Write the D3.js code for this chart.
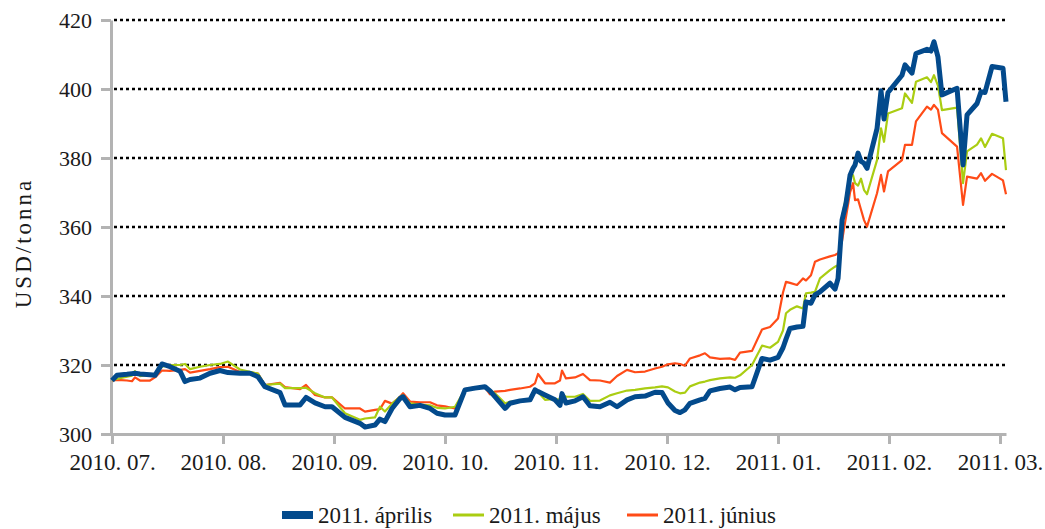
<!DOCTYPE html>
<html>
<head>
<meta charset="UTF-8">
<title>USD/tonna</title>
<style>
  body { margin: 0; background: #fff; }
  svg, svg text { font-family: "Liberation Serif", "Times New Roman", Times, "DejaVu Serif", serif; }
  .axis path, .axis line { stroke: #b3b3b3; stroke-width: 3; }
  .axis text { fill: #1a1a1a; font-size: 22px; }
  .grid line { stroke: #000; stroke-width: 2.5; stroke-dasharray: 3,3; }
  .legend text { font-size: 23px; fill: #1a1a1a; }
</style>
</head>
<body>
<script src="https://cdnjs.cloudflare.com/ajax/libs/d3/7.8.5/d3.min.js"></script>
<script>
// position in months since 2010. 07.
var monthPos = [0, 0.045, 0.135, 0.180, 0.207, 0.252, 0.342, 0.387, 0.450, 0.523, 0.613, 0.658, 0.703, 0.793, 0.883, 0.973,
  1.045, 1.153, 1.243, 1.315, 1.378, 1.514, 1.559, 1.694, 1.748, 1.829, 1.919, 1.982,
  2.099, 2.234, 2.279, 2.369, 2.414, 2.459, 2.523, 2.595, 2.622, 2.685, 2.775, 2.865, 2.928,
  3.000, 3.090, 3.180, 3.270, 3.360, 3.405, 3.450, 3.541, 3.586, 3.676, 3.766, 3.811, 3.838, 3.901, 3.991,
  4.036, 4.054, 4.090, 4.171, 4.243, 4.306, 4.396, 4.486, 4.550, 4.640, 4.712, 4.802, 4.892, 4.955,
  5.009, 5.072, 5.117, 5.162, 5.207, 5.297, 5.342, 5.387, 5.477, 5.568, 5.613, 5.658, 5.766, 5.856, 5.928,
  6.000, 6.045, 6.072, 6.108, 6.171, 6.225, 6.252, 6.297, 6.333, 6.378, 6.468, 6.514, 6.541, 6.577, 6.613, 6.649,
  6.676, 6.694, 6.721, 6.748, 6.775, 6.802, 6.892, 6.928, 6.955, 6.991,
  7.117, 7.144, 7.207, 7.243, 7.342, 7.378, 7.405, 7.441, 7.477, 7.613, 7.667, 7.703, 7.793, 7.829, 7.865, 7.928,
  8.027, 8.054];

var aprilis = [315.5, 317, 317.3, 317.5, 317.6, 317.4, 317.2, 317, 320.3, 319.5, 318.2, 315.2, 315.8, 316.2, 317.6, 318.4,
  317.8, 317.6, 317.6, 316.6, 313.7, 312, 308.4, 308.4, 310.6, 309, 307.9, 307.9,
  304.8, 303.1, 302, 302.6, 304.3, 303.6, 307.4, 310.3, 310.8, 307.9, 308.3, 307.4, 306,
  305.5, 305.5, 312.8, 313.3, 313.7, 312.5, 310.8, 307.4, 308.9, 309.6, 309.9, 312.8, 312.3, 311.3, 309.9,
  308.3, 311.7, 309, 309.6, 310.8, 308.2, 307.9, 309.2, 307.9, 309.9, 310.8, 311, 312.1, 312,
  309, 306.8, 306.2, 307, 308.9, 309.9, 310.3, 312.5, 313.2, 313.6, 312.8, 313.5, 313.7, 321.9, 321.4,
  322.2, 325, 327.5, 330.6, 331, 331.2, 338.3, 337.9, 340.3, 341.2, 343.7, 342, 345.1, 362, 366.9, 375,
  377, 378, 381.4, 379, 378.5, 377, 388.5, 399.5, 391.3, 399,
  404, 407, 404.6, 410.3, 411.5, 411, 413.7, 409.3, 398.3, 400.2, 378, 392.5, 395.8, 399.2, 399, 406.5,
  406, 396.3];

var majus = [315.5, 316, 316.6, 316.9, 318.2, 316.8, 317.2, 317.4, 319.5, 320, 320, 320.3, 318.8, 319.5, 320, 320.3,
  321, 318.7, 318, 317.5, 314.2, 314.6, 313.3, 313.3, 313.4, 311.8, 310.6, 310.6,
  306, 304.1, 304.5, 304.8, 307.9, 306.5, 308.8, 310.8, 311.2, 308.9, 308.5, 308.3, 307.6,
  307.4, 307.9, 312.8, 313.3, 313.5, 312.8, 311.8, 308.9, 309.3, 309.6, 309.9, 312.8, 312.2, 309.9, 310.2,
  309.9, 311.5, 310.8, 310.8, 311.6, 309.6, 309.7, 311.2, 311.8, 312.6, 312.8, 313.2, 313.5, 313.8,
  313.5, 312.3, 311.8, 312, 313.8, 314.9, 315.2, 315.6, 316.1, 316.4, 316.3, 317, 320, 325.6, 325,
  326.7, 330, 335, 336, 337, 336.4, 340.8, 341, 341.2, 345.1, 347.5, 348.5, 349, 363, 368.8, 374.6,
  375, 372.7, 372, 374, 370.7, 369.5, 379.4, 388.6, 384.7, 392.9,
  394.4, 398.7, 396, 402.1, 403.4, 402, 404, 401, 393.9, 394.6, 372.7, 381.9, 383.9, 385.7, 383.2, 387,
  385.7, 376.5];

var junius = [315.5, 315.7, 315.5, 315.3, 316.4, 315.5, 315.5, 316.4, 318.4, 318.3, 318.6, 318.8, 317.8, 318.3, 318.8, 319.4,
  319.5, 318, 317.9, 317.5, 314.2, 314.8, 313.6, 313, 314.2, 311.3, 310.6, 310.6,
  307.4, 307.4, 306.5, 307, 307.2, 309.6, 308.8, 310.8, 311.8, 309.4, 309.2, 309.2, 308.3,
  308, 307.4, 313, 313.5, 313.5, 311.5, 312.3, 312.5, 312.8, 313.2, 313.7, 314.7, 317.4, 314.7, 314.7,
  315.5, 318.4, 316.1, 316.4, 317.4, 315.6, 315.5, 314.9, 316.8, 318.6, 317.9, 318.1, 319, 319.5,
  320.2, 320.5, 320.3, 319.8, 321.9, 322.8, 323.4, 322.2, 321.8, 321.9, 321.5, 323.6, 324.1, 330.3, 331,
  333.5, 341, 344.1, 343.8, 343.2, 345.1, 344.5, 346, 349.9, 350.6, 351.5, 351.9, 352.4, 356, 363, 370,
  372.7, 367.8, 368, 365, 362, 360.1, 369.8, 375.1, 370.3, 376.1,
  379.4, 383.8, 383.8, 390.6, 394.9, 394, 395.4, 394, 387.2, 383.3, 366.4, 374.6, 374, 375.6, 373.4, 375.4,
  373.5, 369.5];

var monthLabels = ["2010. 07.", "2010. 08.", "2010. 09.", "2010. 10.", "2010. 11.", "2010. 12.", "2011. 01.", "2011. 02.", "2011. 03."];
var yTicks = [300, 320, 340, 360, 380, 400, 420];
var seriesNames = ["2011. április", "2011. május", "2011. június"];
var seriesColors = ["#034a8c", "#aacd12", "#ff4b17"];

var width = 1045, height = 529;
var margin = {top: 20, right: 39, bottom: 95, left: 112};

var svg = d3.select("body").append("svg")
    .attr("width", width)
    .attr("height", height);

var x = d3.scaleLinear().domain([0, 8.054]).range([margin.left, width - margin.right]);
var y = d3.scaleLinear().domain([300, 420]).range([height - margin.bottom, margin.top]);

// dotted grid
svg.append("g").attr("class", "grid")
  .selectAll("line")
  .data(yTicks.slice(1))
  .enter().append("line")
    .attr("x1", x(0) + 2).attr("x2", x(8.054))
    .attr("y1", d => y(d)).attr("y2", d => y(d));

// axes
svg.append("g").attr("class", "axis")
    .attr("transform", "translate(" + (x(0) - 1) + ",0)")
    .call(d3.axisLeft(y).tickValues(yTicks).tickSize(10).tickSizeOuter(0).tickPadding(9))
    .attr("font-family", null);

svg.append("g").attr("class", "axis xaxis")
    .attr("transform", "translate(0," + y(300) + ")")
    .call(d3.axisBottom(x).tickValues(d3.range(monthLabels.length))
      .tickFormat(i => monthLabels[i]).tickSize(10).tickSizeOuter(0).tickPadding(10))
    .attr("font-family", null)
  .selectAll("text").style("font-size", "23px");

svg.append("text")
    .attr("transform", "translate(31,243) rotate(-90)")
    .attr("text-anchor", "middle")
    .attr("font-size", "23px")
    .attr("letter-spacing", "3px")
    .attr("fill", "#1a1a1a")
    .text("USD/tonna");

// lines
var series = [aprilis, majus, junius];
var widths = [5, 2.2, 2.2];
var line = d3.line()
    .x((d, i) => x(monthPos[i]))
    .y(d => y(d));

[2, 1, 0].forEach(function(k) {
  svg.append("path")
    .datum(series[k])
    .attr("fill", "none")
    .attr("stroke", seriesColors[k])
    .attr("stroke-width", widths[k])
    .attr("stroke-linejoin", "round")
    .attr("d", line);
});

// legend
var legendX = [282, 453, 627];
var legend = svg.append("g").attr("class", "legend");
seriesNames.forEach(function(name, k) {
  legend.append("line")
    .attr("x1", legendX[k]).attr("x2", legendX[k] + 31)
    .attr("y1", 515).attr("y2", 515)
    .attr("stroke", seriesColors[k])
    .attr("stroke-width", k === 0 ? 8 : 3);
  legend.append("text")
    .attr("x", legendX[k] + 36)
    .attr("y", 523)
    .text(name);
});
</script>
</body>
</html>
